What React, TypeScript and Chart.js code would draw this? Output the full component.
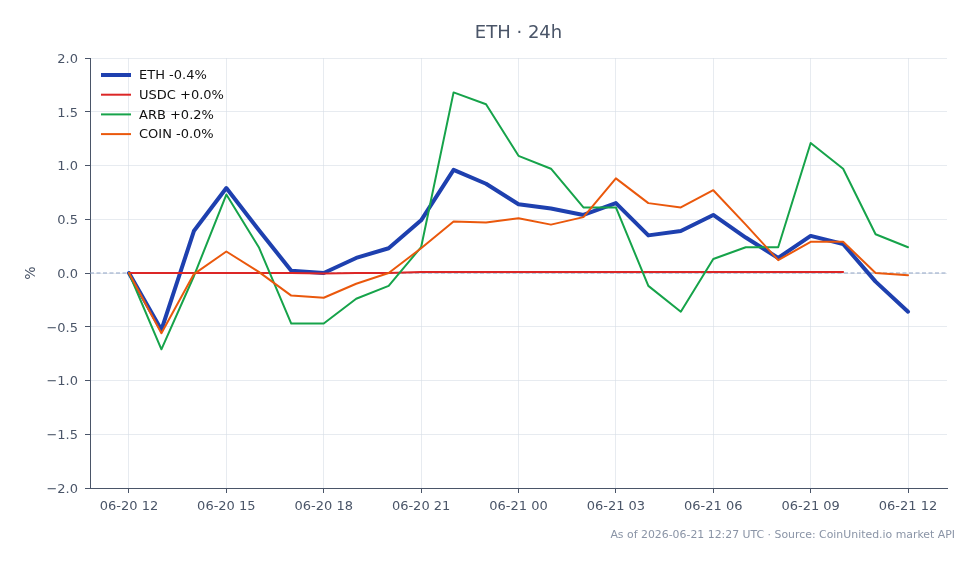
import React, { useEffect, useRef } from "react";
import { Chart, registerables } from "chart.js";

Chart.register(...registerables);

const timeLabels = [
  "06-20 12", "06-20 13", "06-20 14", "06-20 15", "06-20 16", "06-20 17", "06-20 18",
  "06-20 19", "06-20 20", "06-20 21", "06-20 22", "06-20 23", "06-21 00", "06-21 01",
  "06-21 02", "06-21 03", "06-21 04", "06-21 05", "06-21 06", "06-21 07", "06-21 08",
  "06-21 09", "06-21 10", "06-21 11", "06-21 12",
];

const ethValues = [0, -0.53, 0.39, 0.79, 0.4, 0.02, 0.0, 0.14, 0.23, 0.49, 0.96, 0.83, 0.64, 0.6, 0.54, 0.65, 0.35, 0.39, 0.54, 0.33, 0.14, 0.345, 0.27, -0.08, -0.36];
const usdcValues = [0, 0, 0, 0, 0, 0, -0.005, 0, 0, 0.01, 0.01, 0.01, 0.01, 0.01, 0.01, 0.01, 0.01, 0.01, 0.01, 0.01, 0.01, 0.01, 0.01];
const arbValues = [0, -0.71, -0.03, 0.73, 0.24, -0.47, -0.47, -0.24, -0.12, 0.24, 1.68, 1.57, 1.09, 0.97, 0.61, 0.61, -0.12, -0.36, 0.13, 0.24, 0.24, 1.21, 0.97, 0.36, 0.24];
const coinValues = [0, -0.56, -0.01, 0.2, 0.01, -0.21, -0.23, -0.1, 0.0, 0.23, 0.48, 0.47, 0.51, 0.45, 0.52, 0.88, 0.65, 0.61, 0.77, 0.45, 0.12, 0.29, 0.29, 0.0, -0.02];

const seriesNames = ["ETH -0.4%", "USDC +0.0%", "ARB +0.2%", "COIN -0.0%"];
const seriesColors = ["#1e40af", "#dc2626", "#16a34a", "#ea580c"];
const seriesWidths = [4, 2, 2, 2];
const xTickHours = [0, 3, 6, 9, 12, 15, 18, 21, 24];
const yTicks = [-2, -1.5, -1, -0.5, 0, 0.5, 1, 1.5, 2];

const titleText = "ETH · 24h";
const footerText = "As of 2026-06-21 12:27 UTC · Source: CoinUnited.io market API";
const yAxisLabel = "%";

const FONT = "'DejaVu Sans', sans-serif";
const TEXT = "#4a5568";

const toPoints = (vals: number[]) => vals.map((v, i) => ({ x: i, y: v }));

export default function App() {
  const ref = useRef<HTMLCanvasElement | null>(null);

  useEffect(() => {
    document.body.style.margin = "0";
    const canvas = ref.current;
    if (!canvas) return;

    const decorPlugin = {
      id: "decor",
      beforeDatasetsDraw(chart: any) {
        const { ctx, chartArea, scales } = chart;
        const y0 = scales.y.getPixelForValue(0);
        ctx.save();
        ctx.strokeStyle = "#8fa3c4";
        ctx.lineWidth = 1;
        ctx.setLineDash([4, 2.5]);
        ctx.beginPath();
        ctx.moveTo(chartArea.left, y0);
        ctx.lineTo(chartArea.right, y0);
        ctx.stroke();
        ctx.restore();
      },
      afterDraw(chart: any) {
        const { ctx, chartArea } = chart;
        ctx.save();
        // title
        ctx.fillStyle = TEXT;
        ctx.font = `18px ${FONT}`;
        ctx.textAlign = "center";
        ctx.textBaseline = "middle";
        ctx.fillText(titleText, (chartArea.left + chartArea.right) / 2, 33);
        // y label
        ctx.save();
        ctx.translate(31, (chartArea.top + chartArea.bottom) / 2);
        ctx.rotate(-Math.PI / 2);
        ctx.font = `14px ${FONT}`;
        ctx.fillText(yAxisLabel, 0, 0);
        ctx.restore();
        // footer
        ctx.fillStyle = "#8a94a6";
        ctx.font = `10.9px ${FONT}`;
        ctx.textAlign = "right";
        ctx.fillText(footerText, 955, 535);
        // legend
        ctx.font = `13px ${FONT}`;
        ctx.textAlign = "left";
        ctx.setLineDash([]);
        seriesNames.forEach((name, i) => {
          const yy = 75 + i * 19.7;
          ctx.strokeStyle = seriesColors[i];
          ctx.lineWidth = seriesWidths[i];
          ctx.beginPath();
          ctx.moveTo(101, yy);
          ctx.lineTo(131, yy);
          ctx.stroke();
          ctx.fillStyle = "#111111";
          ctx.fillText(name, 139, yy + 1);
        });
        ctx.restore();
      },
    };

    const allValues = [ethValues, usdcValues, arbValues, coinValues];

    const chart = new Chart(canvas, {
      type: "line",
      data: {
        datasets: allValues.map((vals, i) => ({
          label: seriesNames[i],
          data: toPoints(vals),
          borderColor: seriesColors[i],
          backgroundColor: seriesColors[i],
          borderWidth: seriesWidths[i],
          pointRadius: 0,
          tension: 0,
          fill: false,
          order: 4 - i,
          borderJoinStyle: "round" as const,
          borderCapStyle: "round" as const,
        })),
      },
      options: {
        animation: false,
        responsive: false,
        layout: { padding: { left: 0, right: 32, top: 58, bottom: 0 } },
        plugins: {
          legend: { display: false },
          title: { display: false },
          tooltip: { enabled: false },
        },
        scales: {
          x: {
            type: "linear",
            min: -1.2,
            max: 25.2,
            afterBuildTicks(scale: any) {
              scale.ticks = xTickHours.map((v) => ({ value: v }));
            },
            afterFit(scale: any) {
              scale.height = 76;
            },
            ticks: {
              autoSkip: false,
              maxRotation: 0,
              padding: 6,
              color: TEXT,
              font: { family: FONT, size: 13 },
              callback: (v: any) => timeLabels[Number(v)] ?? "",
            },
            grid: {
              color: "rgba(215,221,230,0.6)",
              lineWidth: 1,
              tickLength: 5,
              tickColor: TEXT,
            },
            border: { display: true, color: TEXT, width: 1 },
          },
          y: {
            min: -2,
            max: 2,
            afterBuildTicks(scale: any) {
              scale.ticks = yTicks.map((v) => ({ value: v }));
            },
            afterFit(scale: any) {
              scale.width = 90;
            },
            ticks: {
              padding: 7,
              labelOffset: 1.5,
              color: TEXT,
              font: { family: FONT, size: 13 },
              callback: (v: any) => Number(v).toFixed(1).replace("-", "\u2212"),
            },
            grid: {
              color: "rgba(215,221,230,0.6)",
              lineWidth: 1,
              tickLength: 5,
              tickColor: TEXT,
            },
            border: { display: true, color: TEXT, width: 1 },
          },
        },
      },
      plugins: [decorPlugin],
    } as any);

    return () => chart.destroy();
  }, []);

  return (
    <div style={{ width: 979, height: 564, background: "#ffffff" }}>
      <canvas ref={ref} width={979} height={564} style={{ display: "block" }} />
    </div>
  );
}
